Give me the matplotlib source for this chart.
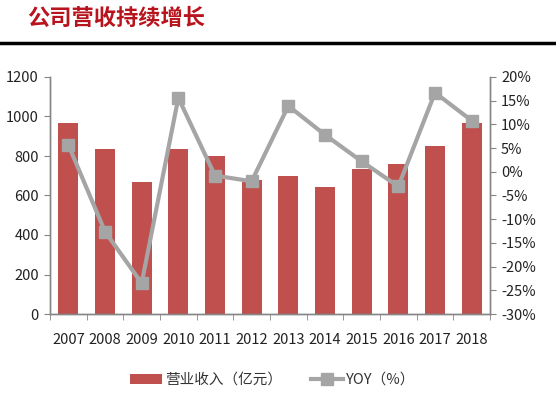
import matplotlib.pyplot as plt
from matplotlib.ticker import FuncFormatter

plt.rcParams['font.family'] = ['Noto Sans CJK SC', 'DejaVu Sans']

# data
years = ["2007", "2008", "2009", "2010", "2011", "2012",
         "2013", "2014", "2015", "2016", "2017", "2018"]
revenue = [965, 834, 668, 834, 801, 678, 699, 645, 734, 759, 851, 965]
yoy = [5.7, -12.6, -23.5, 15.6, -0.8, -2.0, 13.9, 7.8, 2.2, -3.1, 16.7, 10.8]

bar_color = "#C0504D"
line_color = "#A5A5A5"
axis_color = "#868686"
text_color = "#222222"

fig = plt.figure(figsize=(5.56, 4.11), dpi=100)

# header
fig.text(0.048, 0.955, "公司营收持续增长", fontsize=16, fontweight="bold",
         color="#B8141E", va="center", ha="left")
fig.add_artist(plt.Line2D([0, 1], [0.895, 0.895], color="black", lw=2.5))

ax = fig.add_axes([50 / 556, 1 - 314 / 411, 440 / 556, 237 / 411])
x = range(len(years))
bars = ax.bar(x, revenue, width=0.55, color=bar_color, zorder=2)
ax.set_ylim(0, 1200)
ax.set_yticks(range(0, 1201, 200))
ax.set_xlim(-0.5, len(years) - 0.5)
ax.set_xticks(list(x))
ax.set_xticklabels(years)
ax.set_xticks([i - 0.5 for i in range(len(years) + 1)], minor=True)
ax.tick_params(axis="x", which="major", length=0, pad=14, labelsize=10.5,
               labelcolor=text_color)
ax.tick_params(axis="x", which="minor", length=4, color=axis_color, direction="out")
ax.tick_params(axis="y", length=4, color=axis_color, labelsize=10.5, pad=4,
               labelcolor=text_color)

ax2 = ax.twinx()
line, = ax2.plot(x, yoy, color=line_color, lw=3, marker="s", markersize=9, zorder=3)
ax2.set_ylim(-30, 20)
ax2.set_yticks(range(-30, 21, 5))
ax2.yaxis.set_major_formatter(FuncFormatter(lambda v, p: f"{v:.0f}%"))
ax2.tick_params(axis="y", length=4, color=axis_color, labelsize=10.5, pad=4,
                labelcolor=text_color)

for a in (ax, ax2):
    a.spines["top"].set_visible(False)
    for s in ("left", "right", "bottom"):
        a.spines[s].set_color(axis_color)
        a.spines[s].set_linewidth(1)

leg = fig.legend([bars, line], ["营业收入（亿元）", "YOY（%）"], loc="center",
                 bbox_to_anchor=(0.49, 1 - 380 / 411), ncol=2, frameon=False,
                 fontsize=10.5, handlelength=2.2, columnspacing=2.0,
                 handletextpad=0.2)
for t in leg.get_texts():
    t.set_color("#333333")

fig.savefig("out.png", dpi=100)
